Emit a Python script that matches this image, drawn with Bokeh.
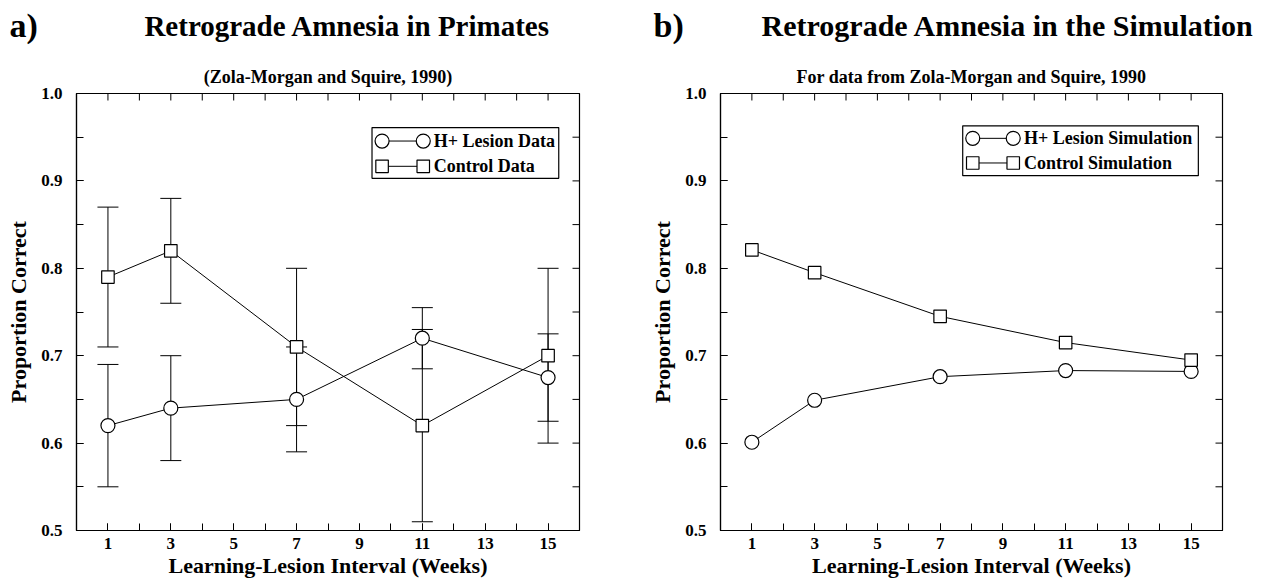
from math import pi

from bokeh.plotting import figure
from bokeh.layouts import row, column
from bokeh.models import (FixedTicker, Range1d, Whisker, TeeHead, ColumnDataSource,
                          Label, BoxAnnotation, PrintfTickFormatter, Title)
from bokeh.core.properties import value
from bokeh.embed import file_html
from bokeh.resources import INLINE

# ---- data -------------------------------------------------------------
weeks = [1, 3, 7, 11, 15]

# primate data (Zola-Morgan and Squire, 1990) with error bars
lesion_data = [0.62, 0.64, 0.65, 0.72, 0.675]
lesion_err = [0.07, 0.06, 0.06, 0.035, 0.05]
control_data = [0.79, 0.82, 0.71, 0.62, 0.70]
control_err = [0.08, 0.06, 0.09, 0.11, 0.10]

# simulation results
lesion_sim = [0.601, 0.649, 0.676, 0.683, 0.682]
control_sim = [0.821, 0.795, 0.745, 0.715, 0.695]

x_ticks = [1, 3, 5, 7, 9, 11, 13, 15]
x_minor = list(range(0, 17))
y_ticks = [0.5, 0.6, 0.7, 0.8, 0.9, 1.0]
y_minor = [0.5, 0.55, 0.6, 0.65, 0.7, 0.75, 0.8, 0.85, 0.9, 0.95, 1.0]

# ---- style ------------------------------------------------------------
FONT = "Liberation Serif"
X_RANGE = (0, 16)
Y_RANGE = (0.5, 1.0)
HEADER_H = 53
FRAME_TOP = 93
TICK = 7
CIRCLE, SQUARE = 14, 12.5


def style_axis(ax, ticks, minor):
    ax.ticker = FixedTicker(ticks=ticks, minor_ticks=minor)
    ax.axis_line_color = "black"
    ax.axis_line_width = 1.2
    ax.major_tick_line_color = "black"
    ax.minor_tick_line_color = "black"
    ax.major_tick_in = TICK
    ax.major_tick_out = 0
    ax.minor_tick_in = TICK
    ax.minor_tick_out = 0
    ax.major_label_text_font = FONT
    ax.major_label_text_font_style = "bold"
    ax.major_label_text_font_size = "17px"
    ax.major_label_text_color = "black"
    ax.axis_label_text_font = FONT
    ax.axis_label_text_font_style = "bold"
    ax.axis_label_text_font_size = "22px"
    ax.axis_label_text_color = "black"


def make_panel(width, min_right, subtitle):
    p = figure(width=width, height=580 - HEADER_H,
               x_range=Range1d(*X_RANGE), y_range=Range1d(*Y_RANGE),
               output_backend="svg", toolbar_location=None,
               min_border_left=76, min_border_right=min_right,
               min_border_top=FRAME_TOP - HEADER_H, min_border_bottom=50,
               x_axis_label="Learning-Lesion Interval (Weeks)",
               y_axis_label="Proportion Correct")
    p.title = Title(text=subtitle, align="center", text_font=FONT,
                    text_font_style="bold", text_font_size="18px",
                    text_color="black", standoff=14)
    p.grid.visible = False
    p.outline_line_color = "black"
    p.outline_line_width = 1.2
    p.background_fill_color = "white"
    p.border_fill_color = "white"

    style_axis(p.xaxis[0], x_ticks, x_minor)
    style_axis(p.yaxis[0], y_ticks, y_minor)
    p.yaxis[0].formatter = PrintfTickFormatter(format="%.1f")
    p.xaxis[0].major_label_standoff = 7
    p.xaxis[0].axis_label_standoff = 1
    p.yaxis[0].major_label_standoff = 14
    p.yaxis[0].axis_label_standoff = 7

    # mirrored inward ticks along the top and right edges of the frame
    p.ray(x=x_minor, y=[Y_RANGE[1]] * len(x_minor), length=TICK, length_units="screen",
          angle=-pi / 2, line_color="black", line_width=1)
    p.ray(x=[X_RANGE[1]] * len(y_minor), y=y_minor, length=TICK, length_units="screen",
          angle=pi, line_color="black", line_width=1)
    return p


def make_header(width, tag, title, title_size, title_cx):
    # header strip in pixel coordinates (y grows downward)
    h = figure(width=width, height=HEADER_H, title=None, x_range=Range1d(0, width),
               y_range=Range1d(HEADER_H, 0), x_axis_type=None, y_axis_type=None,
               output_backend="svg", toolbar_location=None,
               min_border_left=0, min_border_right=0, min_border_top=0, min_border_bottom=0)
    h.grid.visible = False
    h.outline_line_color = None
    h.text(x=[9], y=[25], text=[tag], text_font=value(FONT), text_font_style="bold",
           text_font_size="34px", text_color="black", text_baseline="alphabetic")
    h.text(x=[title_cx], y=[25], text=[title], text_font=value(FONT), text_font_style="bold",
           text_font_size=title_size, text_color="black", text_align="center",
           text_baseline="alphabetic")
    return h


def add_series(p, ys, marker, size):
    p.line(weeks, ys, line_color="black", line_width=1)
    p.scatter(weeks, ys, marker=marker, size=size, fill_color="white",
              line_color="black", line_width=1.2)


def add_errors(p, ys, errs):
    src = ColumnDataSource(dict(x=weeks,
                                lo=[m - e for m, e in zip(ys, errs)],
                                hi=[m + e for m, e in zip(ys, errs)]))
    p.add_layout(Whisker(source=src, base="x", lower="lo", upper="hi",
                         line_color="black", line_width=1,
                         lower_head=TeeHead(size=21, line_color="black", line_width=1),
                         upper_head=TeeHead(size=21, line_color="black", line_width=1)))


def add_legend(p, box, mx, rows, tx, labels):
    # box = (left, right, bottom, top) in data units; marker pair at mx
    left, right, bottom, top = box
    p.add_layout(BoxAnnotation(left=left, right=right, bottom=bottom, top=top,
                               fill_color="white", fill_alpha=1.0,
                               line_color="black", line_alpha=1.0, line_width=1.2,
                               level="underlay"))
    for (marker, size), yy, text in zip([("circle", CIRCLE), ("square", SQUARE)], rows, labels):
        p.segment(x0=[mx[0]], y0=[yy], x1=[mx[1]], y1=[yy], line_color="black", line_width=1)
        p.scatter(mx, [yy, yy], marker=marker, size=size, fill_color="white",
                  line_color="black", line_width=1.2)
        p.add_layout(Label(x=tx, y=yy, text=text, text_font=FONT, text_font_style="bold",
                           text_font_size="18px", text_color="black",
                           text_baseline="middle"))


# ---- panel a: primate data ---------------------------------------------
ha = make_header(644, "a)", "Retrograde Amnesia in Primates", "29px", 347)
pa = make_panel(644, 65, "(Zola-Morgan and Squire, 1990)")
add_legend(pa, (9.40, 15.34, 0.903, 0.961), [9.72, 11.03], [0.9456, 0.9167], 11.36,
           ["H+ Lesion Data", "Control Data"])
add_errors(pa, lesion_data, lesion_err)
add_errors(pa, control_data, control_err)
add_series(pa, lesion_data, "circle", CIRCLE)
add_series(pa, control_data, "square", SQUARE)

# ---- panel b: simulation -----------------------------------------------
hb = make_header(624, "b)", "Retrograde Amnesia in the Simulation", "30px", 363.5)
pb = make_panel(624, 46, "For data from Zola-Morgan and Squire, 1990")
add_legend(pb, (7.72, 15.23, 0.906, 0.963), [8.04, 9.33], [0.9487, 0.9205], 9.67,
           ["H+ Lesion Simulation", "Control Simulation"])
add_series(pb, lesion_sim, "circle", CIRCLE)
add_series(pb, control_sim, "square", SQUARE)

layout = column(row(ha, hb), row(pa, pb))
open("out.html", "w").write(file_html(layout, INLINE))
